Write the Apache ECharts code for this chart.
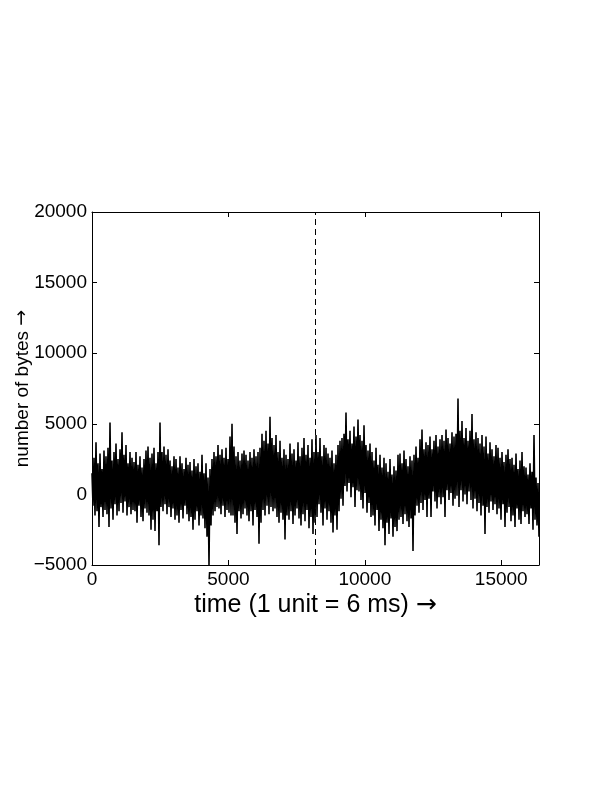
<!DOCTYPE html>
<html>
<head>
<meta charset="utf-8">
<script src="https://cdn.jsdelivr.net/npm/echarts@6/dist/echarts.min.js"></script>
<style>
html,body{margin:0;padding:0;background:#fff;}
#chart{width:612px;height:792px;}
</style>
</head>
<body>
<div id="chart"></div>
<script>
// Traffic trace: number of bytes per time unit (alternating local peaks / troughs)
const timeMax = 16384;
const midPoint = 8192;
const xTicks = [0, 5000, 10000, 15000];
const yTicks = [-5000, 0, 5000, 10000, 15000, 20000];
const bytes = [
  1500,-800,2600,-1500,3700,-1200,2200,-2300,2900,-900,1800,-1600,3100,-1100,
  2700,-1400,3300,-2300,5100,-1000,2400,-1800,3000,-700,3600,-1500,2500,-1200,
  3200,-600,4400,-1300,2800,-500,3500,-1500,2200,-900,3000,-1400,2600,-1100,
  2300,-1200,3000,-2000,2100,-800,2700,-1600,1900,-1900,2500,-1000,3100,-1300,
  3400,-1500,2600,-2500,2900,-1800,3300,-2600,2200,-1200,3000,-3600,5100,-900,
  3000,-1200,3400,-700,2800,-1400,3200,-900,2400,-1600,2000,-1000,2700,-1800,
  2500,-1500,1900,-2000,2700,-1100,2200,-1700,1800,-800,2600,-1400,2100,-1900,
  2300,-1600,1700,-2500,2500,-1800,2000,-1200,2200,-2200,1600,-1500,2800,-1700,
  1500,-2400,2200,-3000,1200,-5000,1800,-2200,2500,-1500,3000,-1200,2700,-900,
  3500,-1000,2800,-1400,3200,-800,2600,-1600,3300,-1100,2500,-1300,4100,-1500,
  5000,-1500,3400,-2000,2700,-2800,3000,-1200,2400,-1700,2900,-1400,3100,-1000,
  2800,-1500,2400,-1900,3000,-1200,2600,-2200,3200,-1100,2700,-1600,3000,-3500,
  3300,-2000,4300,-1100,3800,-1500,4500,-800,3600,-1400,5500,-900,4000,-1200,
  3500,-1000,4200,-1600,3000,-2000,3800,-1300,2600,-1800,3200,-3200,2800,-1500,
  2500,-1800,3600,-1200,2900,-2100,3200,-1500,2400,-1000,3700,-1700,2700,-2200,
  3300,-1400,4000,-1900,2800,-1100,3500,-2400,2600,-1600,3900,-2800,3000,-2000,
  4200,-1600,3000,-700,4000,-1300,2700,-2200,3500,-1000,3300,-1800,2900,-1200,
  2600,-2000,3100,-2700,2200,-1500,2800,-2500,3500,-1200,3800,-300,4000,-800,
  4300,600,5800,200,3900,800,4500,-200,3600,500,4800,-900,4100,300,
  5300,200,4200,-400,3800,-1000,4900,100,3500,-1300,3100,-600,3600,-1600,
  3000,-1500,2400,-2200,3300,-1100,2100,-2600,2800,-1800,1900,-2400,2600,-3600,
  2200,-2000,1600,-2800,2500,-1700,1400,-3000,2000,-2300,1700,-2600,2800,-1800,
  2900,-1600,2200,-2100,3100,-1400,2500,-1900,2000,-2300,2700,-1700,2400,-4000,
  2800,-1500,3400,-800,2600,-1300,3900,-600,4600,-1100,3200,-400,3700,-1600,
  3500,-300,4100,-1600,3200,200,3800,-500,4200,-1000,3400,-200,3900,-700,
  4200,-200,3800,-1600,4600,300,4000,-400,3600,100,4400,-800,4100,-300,
  4300,-100,6800,-900,4500,300,5200,-500,4000,0,4700,-700,3800,200,
  4500,-400,5700,-1000,3900,-300,4400,-1200,4000,-600,3600,-1500,4200,-800,
  3400,-2800,4100,-900,2900,-1300,3700,-500,3200,-1100,2700,-700,3500,-1400,
  3300,-1000,2600,-1800,3000,-700,2300,-2300,2800,-1300,3200,-900,2500,-1900,
  2600,-1500,2100,-2300,2900,-1000,1800,-1800,2400,-2100,3000,-1200,2000,-1600,
  1900,-1400,1400,-2100,2200,-1000,1600,-2500,4200,-1800,1200,-2200,800,-3000
];

const seriesData = bytes.map((v, i) => [i * timeMax / (bytes.length - 1), v]);
const FONT = '"Liberation Sans", Arial, Helvetica, sans-serif';
const fmt = v => (v < 0 ? '\u2212' + Math.abs(v) : String(v));

const chart = echarts.init(document.getElementById('chart'), null, {renderer: 'canvas'});
const tickStyle = {inside: true, length: 5, lineStyle: {color: '#000', width: 1}};
const lineSt = {onZero: false, lineStyle: {color: '#000', width: 1}};
chart.setOption({
  animation: false,
  backgroundColor: '#fff',
  grid: {left: 92, top: 212, right: 73, bottom: 227, containLabel: false, outerBoundsMode: 'none'},
  xAxis: [{
    type: 'value', min: 0, max: timeMax, interval: 5000,
    position: 'bottom',
    axisLine: lineSt, axisTick: tickStyle, splitLine: {show: false},
    axisLabel: {color: '#000', fontSize: 19, fontFamily: FONT, margin: 5, showMaxLabel: false,
      formatter: v => xTicks.includes(v) ? fmt(v) : ''},
    name: 'time (1 unit = 6 ms) {a|\u2192}', nameLocation: 'middle', nameGap: 28,
    nameTextStyle: {color: '#000', fontSize: 25, fontFamily: FONT,
      rich: {a: {fontSize: 25, fontFamily: '"DejaVu Sans"', color: '#000'}}}
  }, {
    type: 'value', min: 0, max: timeMax, interval: 5000, position: 'top',
    axisLine: lineSt, axisTick: tickStyle, axisLabel: {show: false}, splitLine: {show: false}
  }],
  yAxis: [{
    type: 'value', min: -5000, max: 20000, interval: 5000, position: 'left',
    axisLine: lineSt, axisTick: tickStyle, splitLine: {show: false},
    axisLabel: {color: '#000', fontSize: 19, fontFamily: FONT, margin: 5,
      formatter: v => yTicks.includes(v) ? fmt(v) : ''},
    name: 'number of bytes {a|\u2192}', nameLocation: 'middle', nameGap: 60, nameRotate: 90,
    nameMoveOverlap: false,
    nameTextStyle: {color: '#000', fontSize: 19, fontFamily: FONT,
      rich: {a: {fontSize: 19, fontFamily: '"DejaVu Sans"', color: '#000'}}}
  }, {
    type: 'value', min: -5000, max: 20000, interval: 5000, position: 'right',
    axisLine: lineSt, axisTick: tickStyle, axisLabel: {show: false}, splitLine: {show: false}
  }],
  series: [{
    type: 'line', data: seriesData, showSymbol: false, symbol: 'none',
    sampling: null, smooth: false,
    lineStyle: {color: '#000', width: 1.6},
    markLine: {
      silent: true, symbol: ['none', 'none'], label: {show: false},
      lineStyle: {color: '#000', type: [6, 4], width: 1},
      data: [{xAxis: midPoint}]
    }
  }]
});
</script>
</body>
</html>
